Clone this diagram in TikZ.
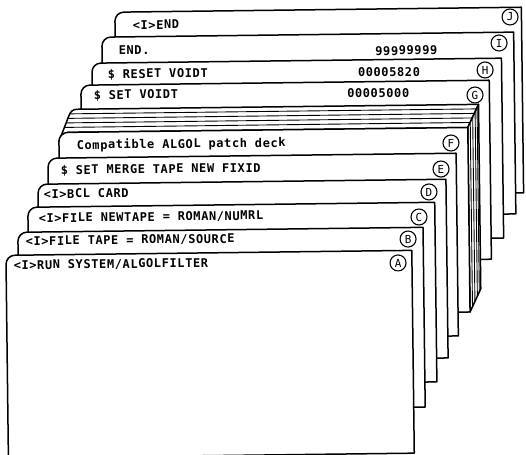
\documentclass[tikz,border=0pt]{standalone}
\usepackage{fontspec}
\newfontfamily\cardfont[LetterSpace=5]{DejaVu Sans Mono}
\newfontfamily\tagfont{DejaVu Sans Mono}
\newcommand\drawcard[4]{%
  \path[cardshape] (#1,#4) -- (#1,#2+9) .. controls (#1,#2+4) and (#1+4,#2) .. (#1+9,#2) -- (#3,#2) -- (#3,#4) -- cycle;}
\begin{document}
\begin{tikzpicture}[x=1pt,y=-1pt,line width=1.5pt,line join=round,
  cardshape/.style={draw,fill=white},
  cardtext/.style={anchor=base west,inner sep=0pt,font=\cardfont\bfseries\fontsize{12}{12}\selectfont},
  cardnum/.style={anchor=base east,inner sep=0pt,font=\cardfont\bfseries\fontsize{12}{12}\selectfont},
  tag/.style={circle,draw,fill=white,line width=1.1pt,minimum size=16pt,inner sep=0pt,font=\tagfont\fontsize{11}{11}\selectfont},
  edge/.style={line width=0.9pt}]
\useasboundingbox (0,0) rectangle (526,454);
\begin{scope}[rotate around={0.7:(263,227)},transform shape]
% J
\drawcard{117.5}{10.4}{524}{196}
\node[cardtext] (tJ) at (134.5,27.8) {<I>END};
\node[tag] (cJ) at (512.6,20) {J};
% I
\drawcard{104.2}{35.2}{516}{217}
\node[cardtext] (tI) at (120.2,52.6) {END.};
\node[cardnum] (nI) at (440.2,56.6) {99999999};
\node[tag] (cI) at (501.3,45.9) {I};
% H
\drawcard{93.9}{61.1}{503.5}{241}
\node[cardtext] (tH) at (108.9,76.5) {\$ RESET VOIDT};
\node[cardnum] (nH) at (422.6,78) {00005820};
\node[tag] (cH) at (487,72.7) {H};
% G
\drawcard{82.6}{83}{491}{262}
\node[cardtext] (tG) at (94.6,97.3) {\$ SET VOIDT};
\node[cardnum] (nG) at (411.6,99) {00005000};
\node[tag] (cG) at (476.6,97.6) {G};
% compressed deck: top face
\path[cardshape] (60,139) -- (70,114) .. controls (72,109) and (74,107) .. (79,107) -- (480,107) -- (469,130) -- (69,130) -- cycle;
\draw[edge] (71.3,111.5) -- (477.8,111.5);
\draw[edge] (69.2,116) -- (475.7,116);
\draw[edge] (67.4,120.5) -- (473.5,120.5);
\draw[edge] (65.6,125) -- (471.4,125);
% right face
\path[cardshape] (469,130) -- (480,107) -- (480,291.5) -- (469,314.5) -- cycle;
\foreach \xx in {471.5,474,476.5,478.5}
  \draw[edge] (\xx,{107+(480-\xx)*23/11}) -- (\xx,{291.5+(480-\xx)*23/11});
% F
\drawcard{60}{130}{469}{314.5}
\node[cardtext] (tF) at (77,147.1) {Compatible ALGOL patch deck};
\node[tag] (cF) at (452,145.3) {F};
% E
\drawcard{48.8}{155.6}{457}{338.3}
\node[cardtext] (tE) at (60.7,171.9) {\$ SET MERGE TAPE NEW FIXID};
\node[tag] (cE) at (441.7,171.2) {E};
% D
\drawcard{38.5}{181.5}{446.5}{360.2}
\node[cardtext] (tD) at (43.4,195.7) {<I>BCL CARD};
\node[tag] (cD) at (429.4,194) {D};
% C
\drawcard{28.1}{204.4}{435}{384}
\node[cardtext] (tC) at (38.1,219.7) {<I>FILE NEWTAPE = ROMAN/NUMRL};
\node[tag] (cC) at (419.1,218.9) {C};
% B
\drawcard{17.8}{229.3}{423}{409}
\node[cardtext] (tB) at (24.8,242.5) {<I>FILE TAPE = ROMAN/SOURCE};
\node[tag] (cB) at (407.9,240.8) {B};
% A
\drawcard{5.6}{252.2}{411.5}{455}
\node[cardtext] (tA) at (12.5,266.4) {<I>RUN SYSTEM/ALGOLFILTER};
\node[tag] (cA) at (397.6,264.6) {A};
\end{scope}
\end{tikzpicture}
\end{document}
